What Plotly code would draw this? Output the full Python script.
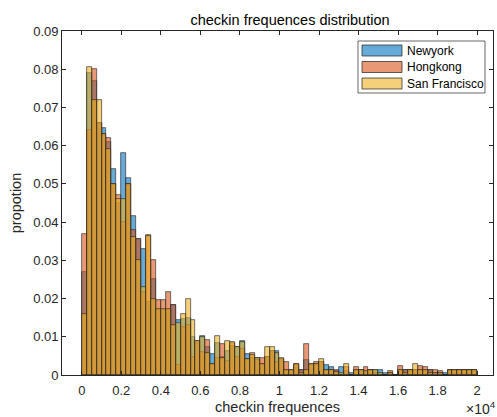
import plotly.graph_objects as go

# Histogram bins (checkin frequences), width 250, 0 .. 20000
bin_width = 250
n_bins = 80
bin_centers = [bin_width * (i + 0.5) for i in range(n_bins)]

# proportion per bin
newyork = [0.0270, 0.0790, 0.0770, 0.0660, 0.0645, 0.0610, 0.0540, 0.0450, 0.0580, 0.0515,
           0.0417, 0.0356, 0.0330, 0.0190, 0.0250, 0.0170, 0.0170, 0.0170, 0.0184, 0.0145,
           0.0147, 0.0150, 0.0099, 0.0085, 0.0101, 0.0073, 0.0054, 0.0085, 0.0048, 0.0064,
           0.0075, 0.0073, 0.0088, 0.0054, 0.0045, 0.0045, 0.0029, 0.0047, 0.0062, 0.0062,
           0.0042, 0.0014, 0.0010, 0.0025, 0.0012, 0.0040, 0.0025, 0.0029, 0.0034, 0.0025,
           0.0020, 0.0010, 0.0020, 0.0010, 0.0006, 0.0014, 0.0014, 0.0007, 0.0013, 0.0013,
           0.0013, 0.0005, 0.0005, 0.0000, 0.0013, 0.0013, 0.0013, 0.0013, 0.0013, 0.0013,
           0.0013, 0.0006, 0.0006, 0.0005, 0.0014, 0.0014, 0.0014, 0.0014, 0.0013, 0.0014]
hongkong = [0.0370, 0.0640, 0.0800, 0.0660, 0.0630, 0.0620, 0.0500, 0.0470, 0.0400, 0.0500,
            0.0380, 0.0356, 0.0216, 0.0366, 0.0300, 0.0195, 0.0195, 0.0217, 0.0184, 0.0025,
            0.0125, 0.0130, 0.0047, 0.0088, 0.0060, 0.0092, 0.0029, 0.0044, 0.0081, 0.0036,
            0.0085, 0.0046, 0.0068, 0.0042, 0.0058, 0.0038, 0.0045, 0.0047, 0.0062, 0.0035,
            0.0042, 0.0034, 0.0014, 0.0029, 0.0012, 0.0081, 0.0029, 0.0035, 0.0034, 0.0014,
            0.0014, 0.0014, 0.0000, 0.0020, 0.0000, 0.0022, 0.0014, 0.0022, 0.0013, 0.0006,
            0.0000, 0.0000, 0.0011, 0.0000, 0.0023, 0.0013, 0.0013, 0.0013, 0.0023, 0.0022,
            0.0013, 0.0012, 0.0010, 0.0000, 0.0014, 0.0014, 0.0014, 0.0014, 0.0013, 0.0014]
san_francisco = [0.0160, 0.0805, 0.0720, 0.0720, 0.0630, 0.0590, 0.0500, 0.0460, 0.0460, 0.0500,
                 0.0360, 0.0300, 0.0231, 0.0364, 0.0200, 0.0173, 0.0173, 0.0173, 0.0130, 0.0135,
                 0.0160, 0.0200, 0.0144, 0.0088, 0.0100, 0.0057, 0.0029, 0.0101, 0.0045, 0.0088,
                 0.0086, 0.0073, 0.0087, 0.0042, 0.0052, 0.0045, 0.0029, 0.0073, 0.0073, 0.0058,
                 0.0044, 0.0014, 0.0014, 0.0029, 0.0006, 0.0014, 0.0029, 0.0029, 0.0043, 0.0014,
                 0.0014, 0.0007, 0.0005, 0.0029, 0.0000, 0.0014, 0.0014, 0.0010, 0.0013, 0.0013,
                 0.0005, 0.0000, 0.0005, 0.0000, 0.0013, 0.0006, 0.0013, 0.0029, 0.0013, 0.0013,
                 0.0006, 0.0006, 0.0006, 0.0000, 0.0014, 0.0014, 0.0014, 0.0014, 0.0014, 0.0014]

series_names = ["Newyork", "Hongkong", "San Francisco"]
series_values = [newyork, hongkong, san_francisco]
series_colors = ["rgba(0,114,189,0.6)", "rgba(217,83,25,0.6)", "rgba(237,177,32,0.6)"]

x_tick_vals = [0, 2000, 4000, 6000, 8000, 10000, 12000, 14000, 16000, 18000, 20000]
x_tick_text = ["0", "0.2", "0.4", "0.6", "0.8", "1", "1.2", "1.4", "1.6", "1.8", "2"]
y_tick_vals = [0, 0.01, 0.02, 0.03, 0.04, 0.05, 0.06, 0.07, 0.08, 0.09]
y_tick_text = ["0", "0.01", "0.02", "0.03", "0.04", "0.05", "0.06", "0.07", "0.08", "0.09"]

EDGE = "rgba(38,38,38,0.9)"
fig = go.Figure()
for name, vals, col in zip(series_names, series_values, series_colors):
    fig.add_trace(go.Bar(
        x=bin_centers, y=vals, width=bin_width, name=name, showlegend=False,
        marker=dict(color=col, line=dict(color=EDGE, width=0.7)),
    ))

font_family = "Liberation Sans, Arial, sans-serif"
axis_common = dict(
    showgrid=False, zeroline=False, showline=True, linecolor="#262626", linewidth=0.6,
    mirror="ticks", ticks="inside", ticklen=4, tickcolor="#262626", tickwidth=0.6,
    tickfont=dict(family=font_family, size=13, color="#262626"),
)

W, H = 497, 417
ML, MR, MT, MB = 62, 4, 31, 42
PW, PH = W - ML - MR, H - MT - MB


def px_x(p):
    return (p - ML) / PW


def px_y(p):
    return (H - MB - p) / PH


fig.update_layout(
    width=W, height=H,
    margin=dict(l=ML, r=MR, t=MT, b=MB),
    paper_bgcolor="white", plot_bgcolor="white",
    barmode="overlay", bargap=0,
    font=dict(family=font_family, size=13, color="#262626"),
    title=dict(text="checkin frequences distribution", x=px_x(290), xanchor="center",
               xref="paper", y=1, yref="paper", yanchor="bottom", pad=dict(b=6),
               font=dict(family=font_family, size=14.5, color="#000000")),
    showlegend=False,
)
fig.update_xaxes(range=[-1000, 20800], tickvals=x_tick_vals, ticktext=x_tick_text,
                 ticklabelstandoff=4,
                 title=dict(text="checkin frequences", standoff=4,
                            font=dict(family=font_family, size=14.5, color="#262626")),
                 **axis_common)
fig.update_yaxes(range=[0, 0.09], tickvals=y_tick_vals, ticktext=y_tick_text,
                 title=dict(text="propotion", standoff=8,
                            font=dict(family=font_family, size=14.5, color="#262626")),
                 **axis_common)
fig.add_annotation(text="×10<sup>4</sup>", xref="paper", yref="paper", x=px_x(498), y=px_y(408),
                   xanchor="right", yanchor="middle", showarrow=False,
                   font=dict(family=font_family, size=14, color="#262626"))

# legend box (drawn with shapes to mimic wide patches)
fig.add_shape(type="rect", xref="paper", yref="paper",
              x0=px_x(358), x1=px_x(485), y0=px_y(93), y1=px_y(41),
              line=dict(color="#262626", width=0.7), fillcolor="white", layer="above")
row_centers = [50.5, 67, 83.5]
for name, col, yc in zip(series_names, series_colors, row_centers):
    fig.add_shape(type="rect", xref="paper", yref="paper",
                  x0=px_x(362), x1=px_x(402), y0=px_y(yc + 5.5), y1=px_y(yc - 5.5),
                  line=dict(color=EDGE, width=0.8), fillcolor=col, layer="above")
    fig.add_annotation(text=name, xref="paper", yref="paper", x=px_x(405), y=px_y(yc),
                       xanchor="left", yanchor="middle", showarrow=False,
                       font=dict(family=font_family, size=12, color="#000000"))

fig.write_html("out.html")
